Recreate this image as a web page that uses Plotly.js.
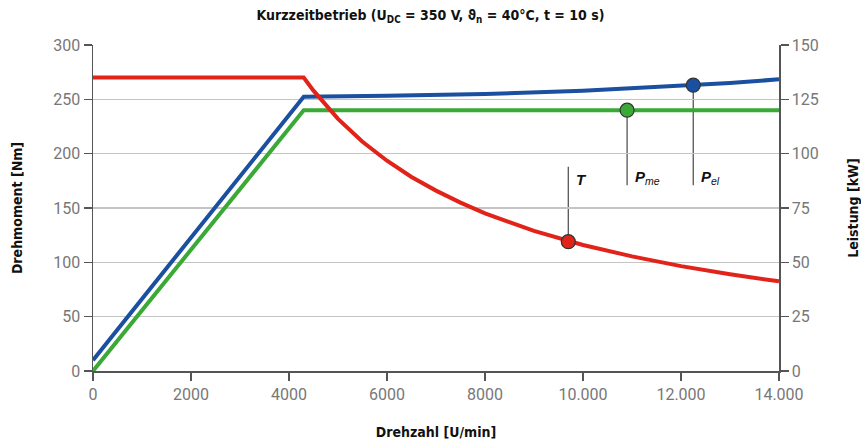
<!DOCTYPE html>
<html>
<head>
<meta charset="utf-8">
<script src="https://cdn.plot.ly/plotly-3.0.1.min.js"></script>
<style>html,body{margin:0;padding:0;background:#fff;}#chart{width:861px;height:440px;}</style>
</head>
<body>
<div id="chart"></div>
<script>
// ---- data ----
const torqueSpeed = [0, 4300, 4500, 4750, 5000, 5500, 6000, 6500, 7000, 7500, 8000, 9000, 10000, 11000, 12000, 13000, 14000];
const torqueNm    = [270, 270, 258, 244.5, 232, 211, 193.5, 178.5, 166, 155, 145, 129, 116, 105.5, 96.5, 89, 82.5];

const pmeSpeed = [0, 4300, 14000];
const pmeKW    = [0, 120, 120];

const pelSpeed = [0, 4300, 6000, 8000, 10000, 12000, 13000, 14000];
const pelKW    = [5, 126.2, 126.6, 127.4, 128.9, 131.0, 132.5, 134.2];

const markerT   = [9700, 119];    // [U/min, Nm]
const markerPme = [10900, 120];   // [U/min, kW]
const markerPel = [12250, 131.5]; // [U/min, kW]
const labelEndNm = [188, 171, 171]; // free ends of the callout lines in Nm

const xTickVals = [0, 2000, 4000, 6000, 8000, 10000, 12000, 14000];
const xTickText = ['0', '2000', '4000', '6000', '8000', '10.000', '12.000', '14.000'];
const yLeftTicks = [0, 50, 100, 150, 200, 250, 300];
const yRightTicks = [0, 25, 50, 75, 100, 125, 150];

// ---- style ----
const RED = '#e2231a', BLUE = '#1b4f9f', GREEN = '#3aa935';
const condensed = '"DejaVu Sans Condensed", "Liberation Sans Narrow", "Arial Narrow", sans-serif';
const tickFont = {family: 'Roboto, "Open Sans", sans-serif', size: 16, color: '#777'};
const axisCol = '#555';

const traces = [
  {x: pmeSpeed, y: pmeKW, yaxis: 'y', mode: 'lines', line: {color: GREEN, width: 4}, hoverinfo: 'skip'},
  {x: pelSpeed, y: pelKW, yaxis: 'y', mode: 'lines', line: {color: BLUE, width: 4}, hoverinfo: 'skip'},
  {x: [markerPme[0]], y: [markerPme[1]], yaxis: 'y', mode: 'markers',
   marker: {color: GREEN, size: 14, line: {color: '#333', width: 1.2}}},
  {x: [markerPel[0]], y: [markerPel[1]], yaxis: 'y', mode: 'markers',
   marker: {color: BLUE, size: 14, line: {color: '#333', width: 1.2}}},
  {x: torqueSpeed, y: torqueNm, yaxis: 'y2', mode: 'lines', line: {color: RED, width: 4}, hoverinfo: 'skip'},
  {x: [markerT[0]], y: [markerT[1]], yaxis: 'y2', mode: 'markers',
   marker: {color: RED, size: 14, line: {color: '#333', width: 1.2}}}
];

const lineStyle = {color: '#555', width: 1.3};
const shapes = [
  {type: 'line', xref: 'x', yref: 'y2', x0: markerT[0], x1: markerT[0], y0: markerT[1], y1: labelEndNm[0], line: lineStyle, layer: 'below'},
  {type: 'line', xref: 'x', yref: 'y2', x0: markerPme[0], x1: markerPme[0], y0: markerPme[1] * 2, y1: labelEndNm[1], line: lineStyle, layer: 'below'},
  {type: 'line', xref: 'x', yref: 'y2', x0: markerPel[0], x1: markerPel[0], y0: markerPel[1] * 2, y1: labelEndNm[2], line: lineStyle, layer: 'below'}
];

const labFont = {family: 'Liberation Sans, Arial, sans-serif', size: 15, color: '#111'};
const annotations = [
  {x: markerT[0], y: labelEndNm[0], xref: 'x', yref: 'y2', text: '<b><i>T</i></b>', showarrow: false,
   xanchor: 'left', yanchor: 'top', xshift: 6, yshift: -2, font: labFont},
  {x: markerPme[0], y: labelEndNm[1], xref: 'x', yref: 'y2', text: '<b><i>P</i></b><sub><i>me</i></sub>', showarrow: false,
   xanchor: 'left', yanchor: 'bottom', xshift: 6, yshift: -4, font: labFont},
  {x: markerPel[0], y: labelEndNm[2], xref: 'x', yref: 'y2', text: '<b><i>P</i></b><sub><i>el</i></sub>', showarrow: false,
   xanchor: 'left', yanchor: 'bottom', xshift: 6, yshift: -4, font: labFont}
];

const layout = {
  width: 861, height: 440,
  margin: {l: 93, r: 82, t: 45, b: 69},
  paper_bgcolor: '#fff', plot_bgcolor: '#fff',
  showlegend: false,
  title: {text: '<b>Kurzzeitbetrieb (U<sub>DC</sub> = 350 V, ϑ<sub>n</sub> = 40°C, t = 10 s)</b>',
          font: {family: condensed, size: 14, color: '#111'}, x: 0.5, xanchor: 'center', y: 0.965, yanchor: 'middle'},
  xaxis: {range: [0, 14000], tickvals: xTickVals, ticktext: xTickText, showgrid: false, zeroline: false,
          showline: true, linecolor: axisCol, linewidth: 1.5, ticks: 'outside', ticklen: 8, tickcolor: axisCol, tickwidth: 1.5,
          tickfont: tickFont,
          title: {text: '<b>Drehzahl [U/min]</b>', font: {family: condensed, size: 14, color: '#111'}, standoff: 24}},
  yaxis: {range: [0, 150], tickvals: yRightTicks, side: 'right', showgrid: true, gridcolor: '#c4c4c4', gridwidth: 1.3,
          zeroline: false, showline: true, linecolor: axisCol, linewidth: 1.5, ticks: 'outside', ticklen: 8,
          tickcolor: axisCol, tickwidth: 1.5, tickfont: tickFont,
          title: {text: '<b>Leistung [kW]</b>', font: {family: condensed, size: 14, color: '#111'}, standoff: 30}},
  yaxis2: {range: [0, 300], tickvals: yLeftTicks, side: 'left', overlaying: 'y', showgrid: false, zeroline: false,
           showline: true, linecolor: axisCol, linewidth: 1.5, ticks: 'outside', ticklen: 8,
           tickcolor: axisCol, tickwidth: 1.5, tickfont: tickFont,
           title: {text: '<b>Drehmoment [Nm]</b>', font: {family: condensed, size: 14, color: '#111'}, standoff: 27}},
  shapes: shapes,
  annotations: annotations
};

Plotly.newPlot('chart', traces, layout, {staticPlot: true, displayModeBar: false});
</script>
</body>
</html>
